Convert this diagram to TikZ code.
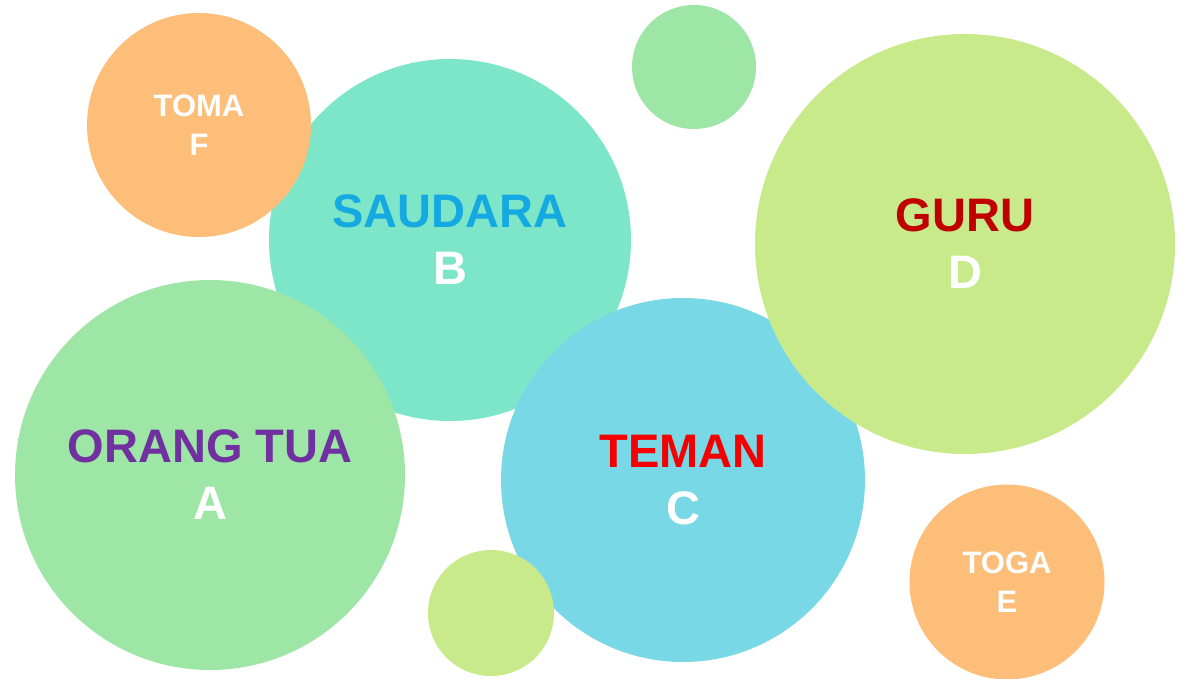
\documentclass[tikz,border=0pt]{standalone}
\usepackage{fontspec}
\setmainfont{Liberation Sans}

\definecolor{bubbleorange}{HTML}{FCBE78}
\definecolor{bubbleteal}{HTML}{7DE6C8}
\definecolor{bubblegreen}{HTML}{9EE6A6}
\definecolor{bubbleblue}{HTML}{78D8E6}
\definecolor{bubblelime}{HTML}{C8EA8A}
\definecolor{textblue}{HTML}{15A9E1}
\definecolor{textpurple}{HTML}{7030A0}
\definecolor{textred}{HTML}{F50000}
\definecolor{textdarkred}{HTML}{C00000}

\tikzstyle{bubble}=[circle, inner sep=0, align=center, text=white, font=\bfseries\fontsize{47}{57}\selectfont]
\tikzstyle{smallbubble}=[bubble, font=\bfseries\fontsize{31}{39}\selectfont]

\begin{document}
\begin{tikzpicture}[x=1pt, y=-1pt]
  \useasboundingbox (0,0) rectangle (1181,678);
  % big circles, back to front
  \node[bubble, fill=bubbleteal, minimum size=362] (B) at (450,240) {\textcolor{textblue}{SAUDARA}\\B};
  \node[smallbubble, fill=bubbleorange, minimum size=224] (F) at (199,125) {TOMA\\F};
  \node[bubble, fill=bubblegreen, minimum size=390] (A) at (210,475) {\textcolor{textpurple}{ORANG TUA}\\A};
  \node[bubble, fill=bubbleblue, minimum size=364] (C) at (683,480) {\textcolor{textred}{TEMAN}\\C};
  \node[bubble, fill=bubblelime, minimum size=420] (D) at (965,244) {\textcolor{textdarkred}{GURU}\\D};
  % plain dots
  \node[bubble, fill=bubblegreen, minimum size=124] (dot1) at (694,67) {};
  \node[bubble, fill=bubblelime, minimum size=126] (dot2) at (491,613) {};
  \node[smallbubble, fill=bubbleorange, minimum size=195] (E) at (1007,582) {TOGA\\E};
\end{tikzpicture}
\end{document}
